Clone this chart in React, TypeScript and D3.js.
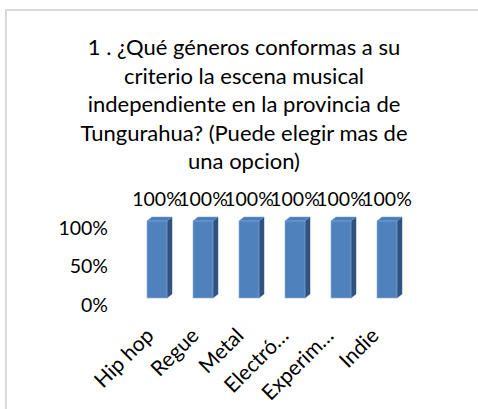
import React from "react";
import * as d3 from "d3";

const titleLines = [
  "1 . ¿Qué géneros conformas a su",
  "criterio la escena musical",
  "independiente en la provincia de",
  "Tungurahua? (Puede elegir mas de",
  "una opcion)",
];
const categories = ["Hip hop", "Regue", "Metal", "Electró…", "Experim…", "Indie"];
const values = [1, 1, 1, 1, 1, 1];
const yTicks = [0, 0.5, 1];

const W = 478;
const H = 409;
const FONT = "Lato, 'Open Sans', sans-serif";

export default function App() {
  const x = d3
    .scaleBand<string>()
    .domain(categories)
    .range([134, 410])
    .paddingInner(0.565)
    .paddingOuter(0.2825);
  const xLabel = d3.scalePoint<string>().domain(categories).range([155, 380]);
  const y = d3.scaleLinear().domain([0, 1]).range([298, 221]);
  const fmt = d3.format(".0%");
  const bw = x.bandwidth();
  const dx = 5;
  const dy = -4;

  return (
    <svg
      width={W}
      height={H}
      style={{ position: "absolute", left: 0, top: 0, background: "#fff" }}
      fontFamily={FONT}
    >
      <rect x={6} y={10} width={600} height={600} fill="#fff" stroke="#d9d9d9" strokeWidth={2} />
      {titleLines.map((t, i) => (
        <text key={i} x={244} y={55 + i * 28.5} textAnchor="middle" fontSize={22} fill="#000">
          {t}
        </text>
      ))}
      {yTicks.map((v) => (
        <text key={v} x={108} y={y(v) + 7} dy="0.35em" textAnchor="end" fontSize={19.5} fill="#000">
          {fmt(v)}
        </text>
      ))}
      {categories.map((c, i) => {
        const x0 = x(c)!;
        const yt = y(values[i]);
        const yb = y(0);
        return (
          <g key={c}>
            <polygon
              points={`${x0 + bw},${yt} ${x0 + bw + dx},${yt + dy} ${x0 + bw + dx},${yb + dy} ${x0 + bw},${yb}`}
              fill="#2f5280"
              stroke="#3a5f8c"
              strokeWidth={0.5}
            />
            <polygon
              points={`${x0},${yt} ${x0 + dx},${yt + dy} ${x0 + bw + dx},${yt + dy} ${x0 + bw},${yt}`}
              fill="#4a7ebb"
              stroke="#6f98cb"
              strokeWidth={0.5}
            />
            <rect x={x0} y={yt} width={bw} height={yb - yt} fill="#4f81bd" stroke="#8eb0da" strokeWidth={0.6} />
            <text x={x0 + bw / 2} y={206} textAnchor="middle" fontSize={19.5} fill="#000">
              {fmt(values[i])}
            </text>
            <text
              transform={`translate(${xLabel(c)},337) rotate(-45)`}
              textAnchor="end"
              fontSize={21}
              fill="#000"
            >
              {c}
            </text>
          </g>
        );
      })}
    </svg>
  );
}
